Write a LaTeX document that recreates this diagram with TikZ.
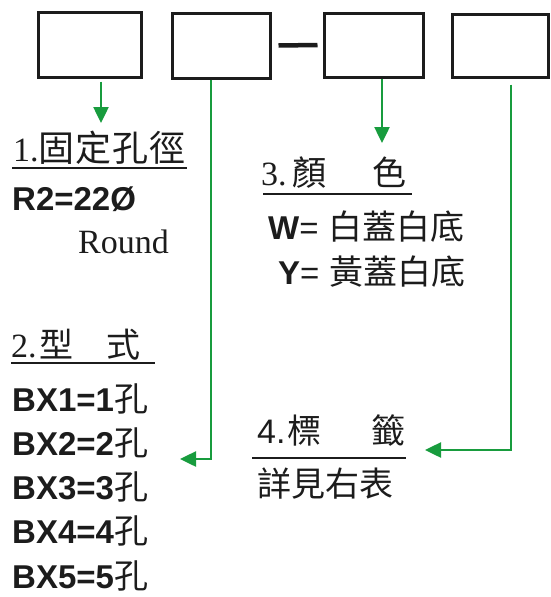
\documentclass[tikz,border=0pt]{standalone}
\usepackage{fontspec}
\setmainfont{Liberation Serif}
\setsansfont{Liberation Sans}
\newfontfamily\cjk{Noto Sans CJK TC}
\usetikzlibrary{arrows.meta,positioning,calc}
\definecolor{Lead}{RGB}{24,156,62}
\definecolor{Ink}{RGB}{28,28,28}
\newcommand{\headsize}{\fontsize{34}{38}\selectfont}
\newcommand{\widesize}{\fontsize{36}{40}\selectfont}
\newcommand{\itemsize}{\fontsize{33}{37}\selectfont}

\begin{document}
\begin{tikzpicture}[x=1pt,y=-1pt,
    slot/.style={draw=Ink,line width=3pt,inner sep=0pt},
    lead/.style={draw=Lead,line width=2.5pt,-{Triangle[length=16pt,width=15pt]}},
    rule/.style={draw=Ink,line width=2pt},
    txt/.style={anchor=base west,inner sep=0pt,text=Ink}]
  \useasboundingbox (0,0) rectangle (550,597);
  % code boxes
  \node[slot,minimum width=103pt,minimum height=65pt] (box1) at (89.5,44.5) {};
  \node[slot,minimum width=98pt,minimum height=65pt] (box2) at (221,45.5) {};
  \node[slot,minimum width=99pt,minimum height=64pt] (box3) at (373.5,45) {};
  \node[slot,minimum width=96pt,minimum height=63pt] (box4) at (500,45.5) {};
  \draw[draw=Ink,line width=4.5pt] ([xshift=7pt]box2.east) -- ([xshift=-5pt]box3.west);

  % 1
  \node[txt,font=\headsize] (t1) at (13,161) {1.{\widesize\cjk 固\hspace{1pt}定\hspace{1pt}孔\hspace{1pt}徑}};
  \draw[rule] (12,168) -- (187,168);
  \node[txt,font=\itemsize\sffamily\bfseries] (r2) at (12,210) {R2=22Ø};
  \node[txt,font=\headsize] (round) at (78,253) {Round};

  % 2
  \node[txt,font=\headsize] (t2) at (11,357) {2.\hspace{3pt}{\cjk 型\hspace{33pt}式}};
  \draw[rule] (11,363) -- (155,363);
  \foreach \n/\y in {1/411,2/455.3,3/499.6,4/543.9,5/588.2}
    \node[txt,font=\itemsize] (bx\n) at (12,\y) {{\sffamily\bfseries BX\n=\n}{\headsize\cjk 孔}};

  % 3
  \node[txt,font=\headsize] (t3) at (261,185) {3.\hspace{6pt}{\cjk 顏\hspace{46pt}色}};
  \draw[rule] (263,194) -- (412,194);
  \node[txt,font=\itemsize] (cw) at (268,239) {{\sffamily\bfseries W}{\sffamily =}\hspace{10pt}{\headsize\cjk 白蓋白底}};
  \node[txt,font=\itemsize] (cy) at (278,284) {{\sffamily\bfseries Y}{\sffamily =}\hspace{10pt}{\headsize\cjk 黃蓋白底}};

  % 4
  \node[txt,font=\headsize] (t4) at (257,443) {{\sffamily 4.}\hspace{2pt}{\cjk 標\hspace{50pt}籤}};
  \draw[rule] (252,458) -- (406,458);
  \node[txt,font=\headsize] (note) at (257,496) {\cjk 詳見右表};

  % arrows
  \coordinate (tip1) at (101,123);
  \coordinate (tip2) at (180,459);
  \coordinate (tip3) at (382,143);
  \coordinate (tip4) at (425,450);
  \draw[lead] ([xshift=11.5pt,yshift=-3pt]box1.south) -- (tip1);
  \draw[lead] ([xshift=-10pt]box2.south) |- (tip2);
  \draw[lead] ([xshift=8.5pt]box3.south) -- (tip3);
  \draw[lead] ([xshift=11pt,yshift=-6pt]box4.south) |- (tip4);
\end{tikzpicture}
\end{document}
